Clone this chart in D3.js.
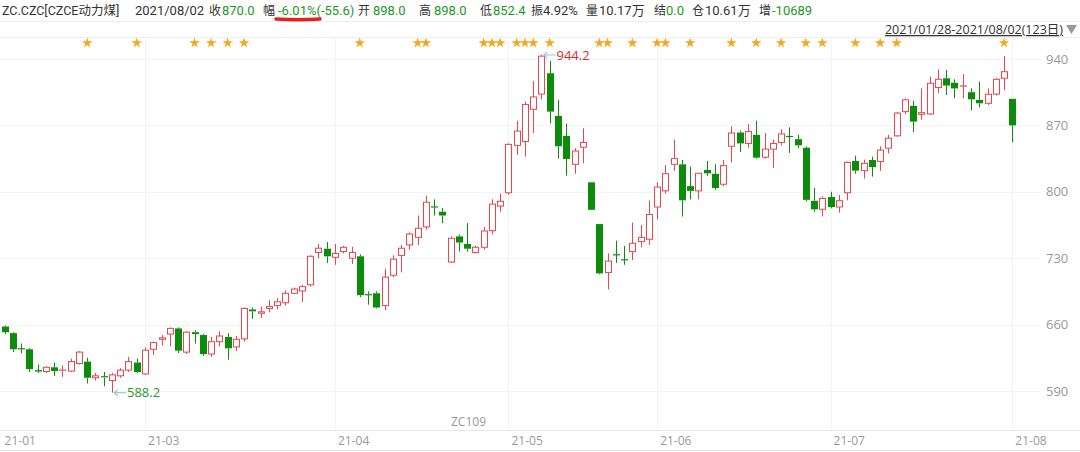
<!DOCTYPE html>
<html><head><meta charset="utf-8">
<script src="https://cdn.jsdelivr.net/npm/d3@7"></script>
<style>
html,body{margin:0;padding:0;background:#fff;}
svg{display:block;font-family:"Open Sans","Noto Sans CJK SC",sans-serif;}
</style></head>
<body><svg id="c" width="1080" height="452"></svg>
<script>
// ---- data ----
const dates = [
"01-28","01-29",
"02-01","02-02","02-03","02-04","02-05","02-08","02-09","02-10","02-18","02-19","02-22","02-23","02-24","02-25","02-26",
"03-01","03-02","03-03","03-04","03-05","03-08","03-09","03-10","03-11","03-12","03-15","03-16","03-17","03-18","03-19","03-22","03-23","03-24","03-25","03-26","03-29","03-30","03-31",
"04-01","04-02","04-06","04-07","04-08","04-09","04-12","04-13","04-14","04-15","04-16","04-19","04-20","04-21","04-22","04-23","04-26","04-27","04-28","04-29","04-30",
"05-06","05-07","05-10","05-11","05-12","05-13","05-14","05-17","05-18","05-19","05-20","05-21","05-24","05-25","05-26","05-27","05-28","05-31",
"06-01","06-02","06-03","06-04","06-07","06-08","06-09","06-10","06-11","06-15","06-16","06-17","06-18","06-21","06-22","06-23","06-24","06-25","06-28","06-29","06-30",
"07-01","07-02","07-05","07-06","07-07","07-08","07-09","07-12","07-13","07-14","07-15","07-16","07-19","07-20","07-21","07-22","07-23","07-26","07-27","07-28","07-29","07-30",
"08-02"];
const opens = [658,651,634.5,634,612,610.5,615,611,611,619,621,604,605,601,606,612,620,608,634,644.5,650,656,631,652,649,629,642,647,636.5,645,676,672,677,680,683,693,695.5,702,736,740,731,737,730,732,691.5,693,680,712,733,744,752,763,784,779,726,753,745,736,741.5,759,785,799,849,853,887,903,925,880,859,829,847,810,766,715,733.6,728.3,737,747.5,750,784,801,829,829,806,801,823,819,808,848,862.5,851,860,836.5,845,852,858.3,855.5,846.5,790.5,781.6,794.5,784,799,832.5,822.3,833.5,832,846,859,884.5,890.5,881.7,882,910,919.7,915,911,905,896.8,893.3,903,919.7,898];
const highs = [659,652,640,635,618,616,620,617,624,632,625,609,610,609,614,626,624,636,642,649,657,657,653,654,650,647,653,651,648,678,678,679,686,688,696,699,702,733,745,747,745,743,742,734,695,695,719,733,744,757,775,796,792,783,753,755,767,743,763,792,798,851,875,895,917,944.2,938,897,872,846,867,810,766,735,748.5,743,767.5,765,791,810,828,855,833.5,826.5,820,832.5,829,833.5,869,864.5,871.5,875,862,855,866,868,860,848,804,795,800,796.6,832,838,834,837,848,860,884,898.6,896,909,921.4,929,928.4,918.6,924,909,916,909,919.7,943,898];
const lows = [650,631,630,610,609,609,606,605,610,618,598,601,595,588.2,604,610,609,607,628,638,637,630,629,640,627,626,637,623,632,642,666,667,673,676,680,692,684,700,730,725,723,735,724,689,681,677,675,710,715,739,744,760,775,767,725,737,737,735,739,755,779,797,839,837,862,897.5,872,835,817,819,830,781,713,697,725,723,728,741.5,744,771,798,822,774,792,792,817,802,806,831,842,846.5,835,835,825,849,841,846,790,779,774,782.6,778,791,819,814,816,822,840.6,858,882,863,876,881,904,902,898.6,898.6,886,889,891.5,901.4,907,852.4];
const closes = [652,634,634,613,610.5,615,611,612,621,631,604,606,604,607,612,621,610,633,641,646,656,632.5,652,650,629,642,648,635,644.5,677,674,673.5,679,684,693,697.5,700,732,740.5,732,735,741.5,736,691,691,678,710,729,740.5,755.5,761.5,789,783.5,775,751,746.5,740,741.5,758.7,787,790,850,864,892,900,943,884.5,848,834.6,843,852,781,714,727,733.4,728,745.7,752,776,805,819,835,791,801,819.5,819.5,804,827.6,862,851,863.5,836,845,851,861,858,849,791.5,781.5,793,784,790.6,831,822.3,830,826,844,856.5,883,897,874,883.4,914.4,918.6,912,909,911.5,897.5,893.3,902.8,918.6,926.6,870];
const starIndex = [10,16,23,25,27,29,43,50,51,58,59,60,62,63,64,66,72,73,76,79,80,83,88,91,94,97,99,103,106,108,121];
const yTicks = [590,660,730,800,870,940];
const monthLabels = ["21-01","21-03","21-04","21-05","21-06","21-07","21-08"];
const monthStart = ["01-28","03-01","04-01","05-06","06-01","07-01","08-02"];
const headerItems = [
  ["ZC.CZC[CZCE动力煤]","#333",2],["2021/08/02","#333",135],
  ["收","#333",209],["870.0","#1a9a1a",222],
  ["幅","#333",263],["-6.01%(-55.6)","#1a9a1a",278],
  ["开","#333",358],["898.0","#1a9a1a",373],
  ["高","#333",419],["898.0","#1a9a1a",434],
  ["低","#333",480],["852.4","#1a9a1a",493],
  ["振","#333",531],["4.92%","#333",543],
  ["量","#333",586],["10.17万","#333",599],
  ["结","#333",654],["0.0","#1a9a1a",666],
  ["仓","#333",692],["10.61万","#333",705],
  ["增","#333",759],["-10689","#1a9a1a",772]
];

// ---- drawing ----
const svg = d3.select("#c");
const UP = "#e4474c", DOWN = "#0b8d0b";
const x = d3.scalePoint().domain(dates).range([4.6, 1012.3]);
const y = d3.scaleLinear().domain([590, 940]).range([391.0, 59]);
const plotTop = 37, plotBottom = 430;

// header
const hdr = svg.append("g").attr("font-family","Roboto,'Noto Sans CJK SC',sans-serif");
headerItems.forEach(([t,c,px],i) => hdr.append("text").attr("x", px).attr("y", 14.5).attr("fill", c)
  .attr("font-size", i===0 ? 12.5 : (/^[\u4e00-\u9fff]$/.test(t) ? 12 : 13)).text(t));
svg.append("line").attr("x1",0).attr("x2",1080).attr("y1",21.5).attr("y2",21.5).attr("stroke","#ececec");
// red hand underline
svg.append("path").attr("d","M276,19 Q298,20.5 320,19").attr("stroke","#e8201c").attr("stroke-width",3.5)
  .attr("fill","none").attr("stroke-linecap","round");

// date range
svg.append("text").attr("x",1063).attr("y",34).attr("text-anchor","end").attr("font-size",12.5).attr("fill","#333")
  .attr("text-decoration","underline").text("2021/01/28-2021/08/02(123日)");
svg.append("path").attr("d","M1066,25 L1077,25 L1071.5,34 Z").attr("fill","#999");

// frame lines
svg.append("line").attr("x1",0).attr("x2",1080).attr("y1",plotTop+0.5).attr("y2",plotTop+0.5).attr("stroke","#f0f0f0");
svg.append("line").attr("x1",0).attr("x2",1080).attr("y1",plotBottom+0.5).attr("y2",plotBottom+0.5).attr("stroke","#e8e8e8");
svg.append("line").attr("x1",0).attr("x2",1080).attr("y1",450.5).attr("y2",450.5).attr("stroke","#e4e4e4");

// horizontal grid + right axis
const yAxis = d3.axisRight(y).tickValues(yTicks).tickSize(0).tickPadding(0).tickFormat(d3.format("d"));
const ya = svg.append("g").attr("transform","translate(1046,0)").call(yAxis);
ya.select(".domain").remove();
ya.selectAll("text").attr("fill","#999").attr("font-size",13).attr("font-family","'Open Sans',sans-serif");
svg.append("g").selectAll("line").data(yTicks).join("line")
  .attr("x1",0).attr("x2",1040).attr("y1",d=>Math.round(y(d))+0.5).attr("y2",d=>Math.round(y(d))+0.5)
  .attr("stroke","#f3f3f3");

// vertical month grid
svg.append("g").selectAll("line").data(monthStart.slice(1)).join("line")
  .attr("x1",d=>Math.round(x(d))+0.5).attr("x2",d=>Math.round(x(d))+0.5)
  .attr("y1",plotTop).attr("y2",plotBottom).attr("stroke","#f3f3f3");

// x axis labels
const xa = svg.append("g").attr("font-size",12).attr("fill","#999");
monthLabels.forEach((m,i)=>{
  xa.append("text").attr("x", x(monthStart[i]) + (i===0?0:3)).attr("y",445).text(m);
});
svg.append("text").attr("x",451).attr("y",426).attr("font-size",12).attr("fill","#999").text("ZC109");

// stars
svg.append("g").selectAll("path").data(starIndex).join("path")
  .attr("d", d3.symbol(d3.symbolStar, 34))
  .attr("transform", d=>`translate(${x(dates[d])},43)`)
  .attr("fill","#f4a81d");

// candles
const data = dates.map((d,i)=>({d, o:opens[i], h:highs[i], l:lows[i], c:closes[i]}));
const bw = 6;
const g = svg.append("g");
data.forEach(k=>{
  const up = k.c >= k.o;
  const col = up ? UP : DOWN;
  const cx = Math.round(x(k.d)) + 0.5;
  const yTop = y(Math.max(k.o,k.c)), yBot = y(Math.min(k.o,k.c));
  g.append("line").attr("x1",cx).attr("x2",cx).attr("y1",y(k.h)).attr("y2",yTop).attr("stroke",col);
  g.append("line").attr("x1",cx).attr("x2",cx).attr("y1",yBot).attr("y2",y(k.l)).attr("stroke",col);
  const hgt = Math.max(yBot - yTop, 1);
  if (hgt <= 1.2) {
    g.append("line").attr("x1",cx-bw/2-0.5).attr("x2",cx+bw/2+0.5).attr("y1",yTop).attr("y2",yTop).attr("stroke",col).attr("stroke-width",1.2);
  } else if (up) {
    g.append("rect").attr("x",cx-bw/2).attr("y",yTop).attr("width",bw).attr("height",hgt)
      .attr("fill","#fff").attr("stroke",col).attr("stroke-width",1);
  } else {
    g.append("rect").attr("x",cx-bw/2-0.5).attr("y",yTop).attr("width",bw+1).attr("height",hgt).attr("fill",col);
  }
});

// max / min annotations
const hiI = d3.maxIndex(highs), loI = d3.minIndex(lows);
function note(i, val, color) {
  const px = x(dates[i]) + 2, py = y(val);
  svg.append("path").attr("d",`M${px},${py} l12,0 M${px},${py} l4,-3 M${px},${py} l4,3`)
    .attr("stroke","#9cc9dd").attr("stroke-width",1.2).attr("fill","none");
  svg.append("text").attr("x",px+13).attr("y",py+4.5).attr("font-size",13).attr("fill",color).text(val.toFixed(1));
}
note(hiI, highs[hiI], "#d42c2c");
note(loI, lows[loI], "#2a9a2a");
</script></body></html>
